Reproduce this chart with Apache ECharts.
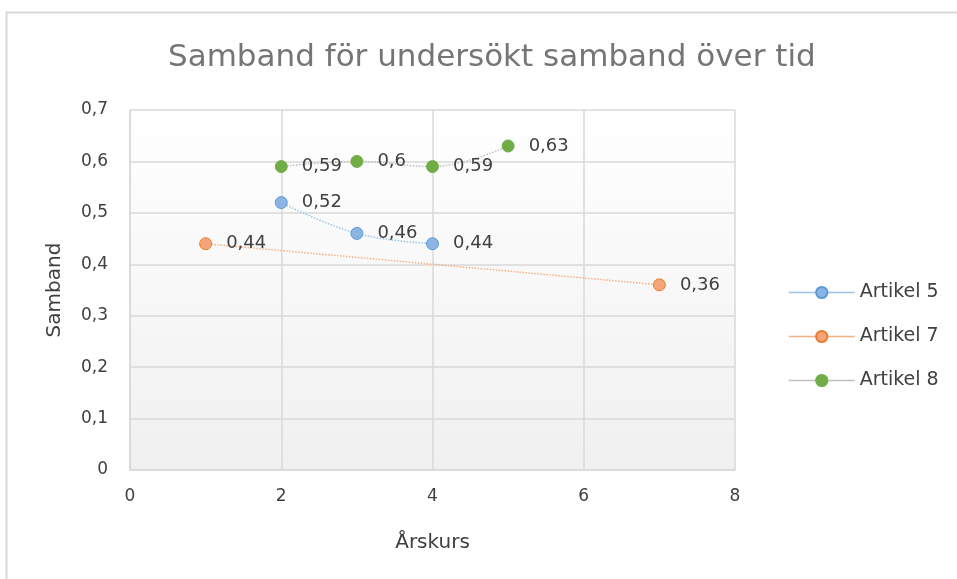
<!DOCTYPE html>
<html>
<head>
<meta charset="utf-8">
<script src="https://cdn.jsdelivr.net/npm/echarts@6/dist/echarts.min.js"></script>
<style>
  html, body { margin: 0; padding: 0; background: #fff; }
  #chart { width: 957px; height: 579px; }
</style>
</head>
<body>
<div id="chart"></div>
<script>
// Data
const art5 = [[2, 0.52], [3, 0.46], [4, 0.44]];
const art7 = [[1, 0.44], [7, 0.36]];
const art8 = [[2, 0.59], [3, 0.6], [4, 0.59], [5, 0.63]];
const seriesNames = ['Artikel 5', 'Artikel 7', 'Artikel 8'];

const FONT = '"DejaVu Sans", sans-serif';
const TXT = '#404040';

function fmt(v) {
  return String(v).replace('.', ',');
}

function makeSeries(name, data, lineColor, markColor, borderColor) {
  return {
    name: name,
    type: 'line',
    data: data,
    smooth: 0.4,
    symbol: 'circle',
    symbolSize: 12,
    lineStyle: { color: lineColor, width: 1.5, type: 'dotted' },
    itemStyle: { color: markColor, borderColor: borderColor, borderWidth: 1 },
    label: {
      show: true,
      position: 'right',
      distance: 14,
      color: TXT,
      fontSize: 18,
      fontFamily: FONT,
      formatter: p => fmt(p.value[1])
    },
    emphasis: { disabled: true }
  };
}

const chart = echarts.init(document.getElementById('chart'), null, { renderer: 'canvas' });
chart.setOption({
  animation: false,
  backgroundColor: '#fff',
  graphic: [{
    type: 'rect',
    shape: { x: 6.5, y: 12.5, width: 1000, height: 600 },
    style: { fill: 'none', stroke: '#d9d9d9', lineWidth: 2 },
    silent: true,
    z: -1
  }],
  title: {
    text: 'Samband för undersökt samband över tid',
    left: 163,
    top: 37,
    textStyle: { color: '#757575', fontSize: 31, fontWeight: 'normal', fontFamily: FONT }
  },
  grid: {
    left: 130, right: 222, top: 110, bottom: 109,
    show: true,
    borderWidth: 0,
    backgroundColor: new echarts.graphic.LinearGradient(0, 0, 0, 1, [
      { offset: 0, color: '#ffffff' },
      { offset: 1, color: '#f0f0f0' }
    ])
  },
  legend: {
    orient: 'vertical',
    left: 783,
    top: 278,
    itemGap: 25,
    itemWidth: 66,
    itemHeight: 14,
    data: seriesNames,
    lineStyle: { type: 'solid', width: 1.5 },
    textStyle: { color: TXT, fontSize: 19, fontFamily: FONT }
  },
  xAxis: {
    type: 'value',
    min: 0, max: 8, interval: 2,
    name: 'Årskurs',
    nameLocation: 'middle',
    nameGap: 63,
    nameTextStyle: { color: TXT, fontSize: 20, fontFamily: FONT },
    axisLine: { show: true, lineStyle: { color: '#d9d9d9', width: 1.5 } },
    axisTick: { show: false },
    axisLabel: { color: TXT, fontSize: 17, fontFamily: FONT, margin: 18 },
    splitLine: { show: true, lineStyle: { color: '#d9d9d9', width: 1.5 } }
  },
  yAxis: {
    type: 'value',
    min: 0, max: 0.7, interval: 0.1,
    name: 'Samband',
    nameLocation: 'middle',
    nameGap: 65,
    nameTextStyle: { color: TXT, fontSize: 20, fontFamily: FONT },
    axisLine: { show: true, lineStyle: { color: '#d9d9d9', width: 1.5 } },
    axisTick: { show: false },
    axisLabel: { color: TXT, fontSize: 17, fontFamily: FONT, margin: 22, formatter: v => fmt(Math.round(v * 10) / 10) },
    splitLine: { show: true, lineStyle: { color: '#d9d9d9', width: 1.5 } }
  },
  series: [
    makeSeries(seriesNames[0], art5, '#9dc3e6', '#8db4e2', '#5b9bd5'),
    makeSeries(seriesNames[1], art7, '#f4b183', '#f4a67a', '#ed7d31'),
    makeSeries(seriesNames[2], art8, '#bfbfbf', '#70ad47', '#70ad47')
  ]
});
</script>
</body>
</html>
